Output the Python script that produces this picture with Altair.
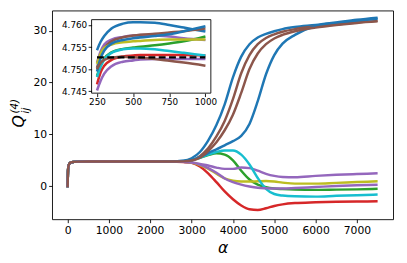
import altair as alt
import pandas as pd

FONT = "DejaVu Sans"

# ---------------- data ----------------
early_alpha = [0, 10, 20, 40, 80, 150, 250, 500, 1000, 1500, 2000]
early_q = [-0.2, 3.0, 3.8, 4.3, 4.6, 4.7, 4.745, 4.755, 4.755, 4.755, 4.755]

late_alpha = [2500, 2800, 3000, 3200, 3400, 3600, 3800, 4000, 4200, 4400,
              4600, 4800, 5000, 5200, 5500, 6000, 6500, 7000, 7500]

curve_names = ["blue_a", "green", "red", "purple_a", "brown_a",
               "olive", "cyan", "blue_b", "purple_b", "brown_b"]
curve_colors = ["#1f77b4", "#2ca02c", "#d62728", "#9467bd", "#8c564b",
                "#bcbd22", "#17becf", "#1f77b4", "#9467bd", "#8c564b"]

late_blue_a = [4.76, 4.9, 5.4, 6.6, 8.8, 11.8, 15.8, 21.0, 25.0, 27.4,
               28.7, 29.4, 29.9, 30.3, 30.7, 31.1, 31.6, 32.1, 32.5]
late_green = [4.76, 4.8, 5.0, 5.5, 6.0, 6.35, 6.1, 5.0, 3.0, 1.3,
              0.3, -0.2, -0.45, -0.55, -0.65, -0.7, -0.65, -0.6, -0.5]
late_red = [4.75, 4.65, 4.5, 3.8, 2.5, 0.8, -1.0, -2.5, -3.7, -4.45,
            -4.6, -4.25, -3.8, -3.5, -3.25, -3.1, -3.0, -2.95, -2.9]
late_purple_a = [4.75, 4.7, 4.6, 4.3, 4.0, 3.6, 3.35, 3.35, 3.6, 3.5,
                 3.0, 2.4, 2.0, 1.8, 1.75, 2.0, 2.2, 2.35, 2.5]
late_brown_a = [4.76, 4.8, 5.0, 5.8, 7.3, 9.6, 12.6, 16.8, 21.8, 25.3,
                27.4, 28.6, 29.3, 29.8, 30.3, 30.8, 31.2, 31.6, 31.9]
late_olive = [4.75, 4.7, 4.55, 4.1, 3.4, 2.4, 1.5, 1.05, 0.9, 0.9,
              0.95, 1.0, 0.9, 0.7, 0.5, 0.5, 0.65, 0.8, 0.95]
late_cyan = [4.76, 4.8, 5.0, 5.5, 6.1, 6.6, 6.9, 6.9, 6.1, 4.2,
             1.6, -0.5, -1.5, -1.8, -1.95, -2.0, -1.85, -1.75, -1.6]
late_blue_b = [4.76, 4.85, 5.05, 5.6, 6.4, 7.1, 7.9, 8.7, 9.7, 12.0,
               16.4, 21.6, 25.3, 27.5, 29.2, 30.9, 31.5, 31.9, 32.3]
late_purple_b = [4.75, 4.7, 4.55, 4.2, 3.5, 2.6, 1.5, 0.8, 0.3, -0.05,
                 -0.3, -0.4, -0.45, -0.45, -0.35, -0.15, 0.05, 0.2, 0.3]
late_brown_b = [4.76, 4.8, 4.95, 5.5, 6.8, 8.5, 10.8, 13.8, 18.0, 22.6,
                25.6, 27.4, 28.5, 29.2, 29.9, 30.6, 31.1, 31.5, 31.8]

inset_alpha = [250, 275, 300, 350, 430, 500, 550, 650, 750, 850, 1000]
inset_blue_a = [4.7543, 4.7562, 4.7575, 4.7592, 4.7603, 4.7606, 4.7606, 4.7605, 4.7600, 4.7594, 4.7585]
inset_green = [4.7485, 4.7508, 4.7524, 4.7538, 4.7546, 4.7549, 4.7551, 4.7554, 4.7558, 4.7563, 4.7574]
inset_red = [4.7466, 4.7493, 4.7508, 4.7521, 4.7529, 4.7531, 4.7532, 4.7532, 4.7532, 4.7532, 4.7531]
inset_purple_a = [4.7515, 4.7540, 4.7556, 4.7567, 4.7573, 4.7576, 4.7577, 4.7576, 4.7574, 4.7570, 4.7566]
inset_brown_a = [4.7503, 4.7530, 4.7547, 4.7563, 4.7572, 4.7576, 4.7578, 4.7580, 4.7583, 4.7586, 4.7592]
inset_olive = [4.7512, 4.7535, 4.7548, 4.7556, 4.7561, 4.7563, 4.7564, 4.7566, 4.7567, 4.7567, 4.7567]
inset_cyan = [4.7482, 4.7506, 4.7522, 4.7537, 4.7545, 4.7547, 4.7547, 4.7545, 4.7541, 4.7537, 4.7531]
inset_blue_b = [4.7495, 4.7525, 4.7542, 4.7558, 4.7566, 4.7570, 4.7572, 4.7575, 4.7579, 4.7586, 4.7597]
inset_purple_b = [4.7452, 4.7474, 4.7490, 4.7507, 4.7517, 4.7520, 4.7522, 4.7523, 4.7523, 4.7523, 4.7523]
inset_brown_b = [4.7500, 4.7514, 4.7521, 4.7526, 4.7528, 4.7527, 4.7526, 4.7523, 4.7519, 4.7515, 4.7508]

ref_alpha = [250, 1000]
ref_q = [4.7527, 4.7527]

main_x_ticks = [0, 1000, 2000, 3000, 4000, 5000, 6000, 7000]
main_y_ticks = [0, 10, 20, 30]
inset_x_ticks = [250, 500, 750, 1000]
inset_y_ticks = [4.745, 4.750, 4.755, 4.760]

late_series = [late_blue_a, late_green, late_red, late_purple_a, late_brown_a,
               late_olive, late_cyan, late_blue_b, late_purple_b, late_brown_b]
inset_series = [inset_blue_a, inset_green, inset_red, inset_purple_a, inset_brown_a,
                inset_olive, inset_cyan, inset_blue_b, inset_purple_b, inset_brown_b]

rows = []
for i, (name, late) in enumerate(zip(curve_names, late_series)):
    key = f"{i:02d}_{name}"
    for a, q in zip(early_alpha + late_alpha, early_q + late):
        rows.append({"curve": key, "alpha": a, "q": q})
df_main = pd.DataFrame(rows)

rows = []
for i, (name, vals) in enumerate(zip(curve_names, inset_series)):
    key = f"{i:02d}_{name}"
    for a, q in zip(inset_alpha, vals):
        rows.append({"curve": key, "a2": a, "q2": q})
df_inset = pd.DataFrame(rows)
df_ref = pd.DataFrame({"a2": ref_alpha, "q2": ref_q})

keys = [f"{i:02d}_{n}" for i, n in enumerate(curve_names)]
color_scale = alt.Scale(domain=keys, range=curve_colors)

# ---------------- layout ----------------
W, H = 348, 213
IX0, IX1, IY0, IY1 = 40.3, 162.0, 9.3, 84.3

main = alt.Chart(df_main).mark_line(strokeWidth=2.5, interpolate="monotone").encode(
    x=alt.X("alpha:Q",
            scale=alt.Scale(domain=[-375, 7875], nice=False, zero=False),
            axis=alt.Axis(values=main_x_ticks, title="α", titleFontStyle="italic",
                          titleFontSize=16, titleFontWeight="normal", titlePadding=4,
                          labelFontSize=11, labelPadding=2, format="d")),
    y=alt.Y("q:Q",
            scale=alt.Scale(domain=[-6.37, 33.89], nice=False, zero=False),
            axis=alt.Axis(values=main_y_ticks, title=None, labelFontSize=11,
                          labelPadding=2, format="d")),
    color=alt.Color("curve:N", scale=color_scale, legend=None),
)

frame = alt.Chart(pd.DataFrame({"k": [0]})).mark_rect(
    fill="white", stroke="black", strokeWidth=0.9
).encode(x=alt.value(IX0), x2=alt.value(IX1), y=alt.value(IY0), y2=alt.value(IY1))

ix_scale = alt.Scale(domain=[212.5, 1037.5], range=[IX0, IX1], nice=False, zero=False)
iy_scale = alt.Scale(domain=[4.7446, 4.7612], range=[IY1, IY0], nice=False, zero=False)

inset_lines = alt.Chart(df_inset).mark_line(strokeWidth=2.6, interpolate="monotone").encode(
    x=alt.X("a2:Q", scale=ix_scale,
            axis=alt.Axis(orient="bottom", offset=-(H - IY1), values=inset_x_ticks,
                          title=None, labelFontSize=9, labelPadding=1.5, zindex=2, format="d")),
    y=alt.Y("q2:Q", scale=iy_scale,
            axis=alt.Axis(orient="left", offset=-IX0, values=inset_y_ticks, format=".3f",
                          title=None, labelFontSize=9, labelPadding=1.5, zindex=2)),
    color=alt.Color("curve:N", scale=color_scale, legend=None),
)
ref_line = alt.Chart(df_ref).mark_line(color="black", strokeWidth=2.3, strokeDash=[7, 3.5]).encode(
    x=alt.X("a2:Q", scale=ix_scale),
    y=alt.Y("q2:Q", scale=iy_scale),
)
inset = alt.layer(inset_lines, ref_line)

one = pd.DataFrame({"k": [0]})
ylab_q = alt.Chart(one).mark_text(text="Q", angle=270, font=FONT, fontSize=16, fontStyle="italic",
                                   align="center", baseline="alphabetic", color="black").encode(
    x=alt.value(-28.5), y=alt.value(113))
ylab_sup = alt.Chart(one).mark_text(text="(4)", angle=270, font=FONT, fontSize=10.5, fontStyle="italic",
                                     align="left", baseline="alphabetic", color="black").encode(
    x=alt.value(-34.5), y=alt.value(105))
ylab_sub = alt.Chart(one).mark_text(text="ij", angle=270, font=FONT, fontSize=10.5, fontStyle="italic",
                                     align="left", baseline="alphabetic", color="black").encode(
    x=alt.value(-24), y=alt.value(105))

chart = alt.layer(main, frame, inset, ylab_q, ylab_sup, ylab_sub).resolve_scale(
    x="independent", y="independent"
).properties(
    width=W, height=H,
    autosize=alt.AutoSizeParams(type="none"),
    padding={"left": 45, "top": 0, "right": 6, "bottom": 40},
).configure(font=FONT).configure_view(
    stroke="black", strokeWidth=0.9
).configure_axis(
    grid=False, domain=False, tickColor="black", tickSize=3.5, tickWidth=0.9,
    labelColor="black", titleColor="black", labelFont=FONT, titleFont=FONT,
)

chart.save("out.html", embed_options={"renderer": "svg", "actions": False})
